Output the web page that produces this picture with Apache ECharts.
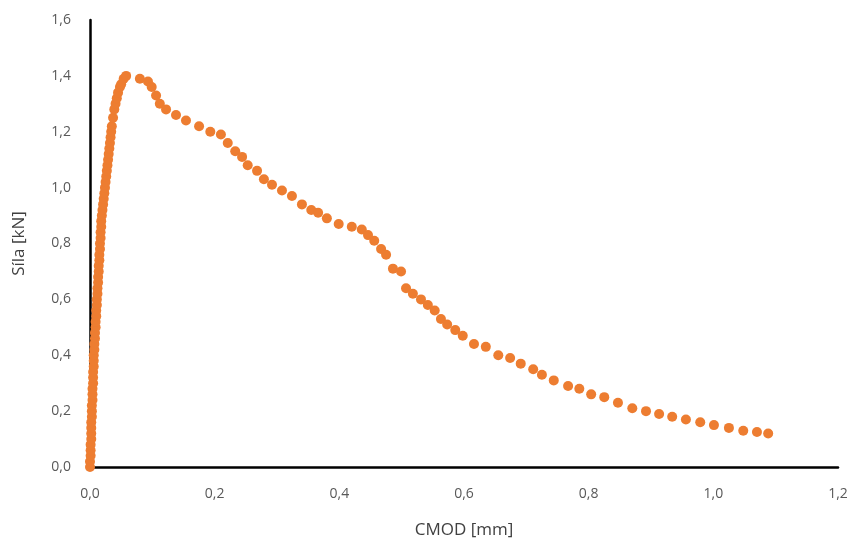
<!DOCTYPE html>
<html style="height: 100%">
<head>
<meta charset="utf-8">
<script type="text/javascript" src="https://cdn.jsdelivr.net/npm/echarts@6/dist/echarts.min.js"></script>
</head>
<body style="height: 100%; margin: 0; background: #fff">
<div id="container" style="width: 859px; height: 547px"></div>
<script type="text/javascript">
// CMOD [mm]
var CMOD = [
    0.000,0.000,0.001,0.001,0.001,0.002,0.002,0.002,0.002,0.003,0.003,0.003,0.004,0.004,0.004,0.005,
    0.005,0.005,0.006,0.006,0.006,0.007,0.007,0.008,0.008,0.009,0.009,0.010,0.010,0.011,0.011,0.012,
    0.012,0.013,0.013,0.014,0.014,0.015,0.015,0.016,0.016,0.017,0.017,0.018,0.018,0.019,0.020,0.021,
    0.022,0.023,0.024,0.025,0.026,0.027,0.028,0.029,0.030,0.031,0.032,0.033,0.034,0.035,0.037,0.039,
    0.041,0.043,0.045,0.048,0.050,0.054,0.058,
    0.080,0.093,0.099,0.106,0.112,0.122,0.138,0.154,0.175,0.193,0.210,0.221,0.233,0.244,0.253,0.268,
    0.279,0.292,0.308,0.324,0.340,0.355,0.366,0.380,0.399,0.420,0.436,0.446,0.456,0.467,0.475,0.486,
    0.499,0.507,0.518,0.531,0.542,0.553,0.563,0.573,0.586,0.598,0.616,0.635,0.655,0.674,0.691,0.711,
    0.725,0.744,0.767,0.785,0.804,0.825,0.847,0.870,0.892,0.913,0.934,0.956,0.979,1.001,1.025,1.048,
    1.070,1.088
];
// Sila [kN]
var SILA = [
    0.00,0.02,0.04,0.06,0.08,0.10,0.12,0.14,0.16,0.18,0.20,0.22,0.24,0.26,0.28,0.30,
    0.32,0.34,0.36,0.38,0.40,0.42,0.44,0.46,0.48,0.50,0.52,0.54,0.56,0.58,0.60,0.62,
    0.64,0.66,0.68,0.70,0.72,0.74,0.76,0.78,0.80,0.82,0.84,0.86,0.88,0.90,0.92,0.94,
    0.96,0.98,1.00,1.02,1.04,1.06,1.08,1.10,1.12,1.14,1.16,1.18,1.20,1.22,1.25,1.28,
    1.30,1.32,1.34,1.36,1.37,1.39,1.40,
    1.39,1.38,1.36,1.33,1.30,1.28,1.26,1.24,1.22,1.20,1.19,1.16,1.13,1.11,1.08,1.06,
    1.03,1.01,0.99,0.97,0.94,0.92,0.91,0.89,0.87,0.86,0.85,0.83,0.81,0.78,0.76,0.71,
    0.70,0.64,0.62,0.60,0.58,0.56,0.53,0.51,0.49,0.47,0.44,0.43,0.40,0.39,0.37,0.35,
    0.33,0.31,0.29,0.28,0.26,0.25,0.23,0.21,0.20,0.19,0.18,0.17,0.16,0.15,0.14,0.13,
    0.125,0.12
];

var FONT = "'Liberation Sans Narrow', 'Open Sans', sans-serif";

function comma(v) {
    return v.toFixed(1).replace('.', ',');
}

var points = [];
for (var i = 0; i < CMOD.length; i++) {
    points.push([CMOD[i], SILA[i]]);
}

var myChart = echarts.init(document.getElementById('container'));
var option = {
    backgroundColor: '#ffffff',
    animation: false,
    grid: {left: 90, right: 21, top: 20, bottom: 80},
    xAxis: {
        type: 'value',
        min: 0, max: 1.2, interval: 0.2,
        name: 'CMOD [mm]',
        nameLocation: 'middle',
        nameGap: 55,
        nameTextStyle: {color: '#404040', fontSize: 17, fontFamily: FONT},
        axisLine: {show: true, lineStyle: {color: '#000', width: 2.5}},
        axisTick: {show: false},
        splitLine: {show: false},
        axisLabel: {color: '#595959', fontSize: 14, fontFamily: FONT, margin: 20, formatter: comma}
    },
    yAxis: {
        type: 'value',
        min: 0, max: 1.6, interval: 0.2,
        name: 'Síla [kN]',
        nameLocation: 'middle',
        nameGap: 62,
        nameTextStyle: {color: '#404040', fontSize: 17, fontFamily: FONT},
        axisLine: {show: true, lineStyle: {color: '#000', width: 2.5}},
        axisTick: {show: false},
        splitLine: {show: false},
        axisLabel: {color: '#595959', fontSize: 14, fontFamily: FONT, margin: 19, formatter: comma}
    },
    series: [{
        type: 'scatter',
        symbol: 'circle',
        symbolSize: 10,
        itemStyle: {color: '#ED7D31', opacity: 1},
        data: points
    }]
};
myChart.setOption(option, true);
</script>
</body>
</html>
